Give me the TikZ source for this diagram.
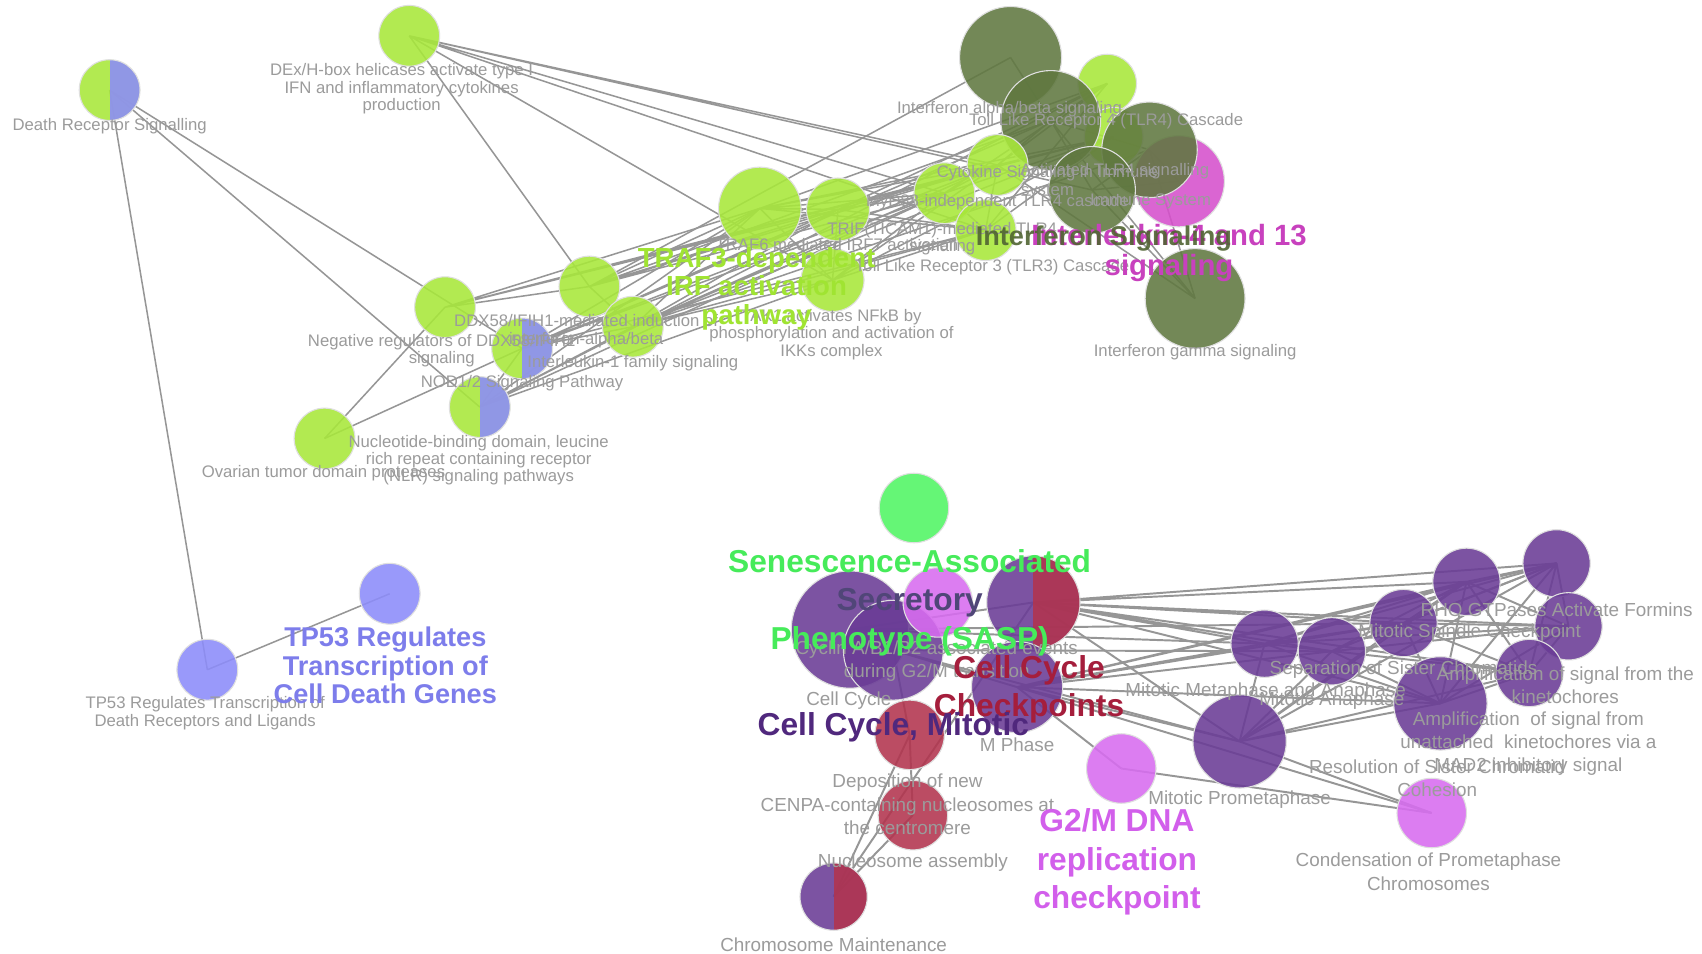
\documentclass[tikz,border=0pt]{standalone}
\usepackage{fontspec}
\setmainfont{Liberation Sans}
\usetikzlibrary{backgrounds}

\definecolor{lime}{RGB}{168,232,58}
\definecolor{olive}{RGB}{96,120,64}
\definecolor{ilpink}{RGB}{214,80,204}
\definecolor{vblue}{RGB}{140,140,250}
\definecolor{sgreen}{RGB}{80,245,100}
\definecolor{cpurple}{RGB}{106,60,150}
\definecolor{crimson}{RGB}{178,52,78}
\definecolor{orchid}{RGB}{216,108,240}
\definecolor{edgegray}{RGB}{150,150,150}
\definecolor{labelgray}{RGB}{155,155,155}
\definecolor{trafgreen}{RGB}{160,228,50}
\definecolor{ifngreen}{RGB}{80,100,50}
\definecolor{ilmag}{RGB}{200,65,190}
\definecolor{tpblue}{RGB}{125,125,235}
\definecolor{sasgreen}{RGB}{70,235,90}
\definecolor{chkred}{RGB}{165,30,60}
\definecolor{mitpurple}{RGB}{80,40,125}
\definecolor{g2mpink}{RGB}{210,95,235}

\tikzset{every picture/.style={line width=0.75pt}}
\tikzset{
  term/.style={circle, inner sep=0pt, draw=white!75!gray, line width=0.5pt, fill opacity=0.88},
  halves/.style 2 args={fill=#1, path picture={\fill[#2] (path picture bounding box.north) rectangle (path picture bounding box.south east);}},
  link/.style={draw=edgegray, line width=0.7pt},
  thick link/.style={draw=edgegray, line width=0.9pt},
  lbl/.style={text=labelgray, inner sep=0pt, align=center, font=\fontsize{7.7}{8}\selectfont},
  lblb/.style={text=labelgray, inner sep=0pt, align=center, font=\fontsize{8.7}{10.75}\selectfont},
  grp/.style={inner sep=0pt, align=center, font=\bfseries\fontsize{14.6}{17.6}\selectfont},
}

\begin{document}
\begin{tikzpicture}[x=0.5pt,y=0.5pt,yscale=-1,xscale=1]
\useasboundingbox (0,0) rectangle (1568,878);

%Shape: Circle [immune cluster]
\node [term, halves={lime}{vblue}, minimum size=28pt] (drs) at (101,83) {};
\node [term, fill=lime, minimum size=28pt] (dexh) at (377,33) {};
\node [term, fill=olive, minimum size=47pt] (ifnab) at (931,53) {};
\node [term, fill=lime, minimum size=27pt] (tlrf) at (1020,77) {};
\node [term, fill=lime, minimum size=27pt] (acttlr) at (1026,126) {};
\node [term, fill=olive, minimum size=46pt] (cyto) at (968,111) {};
\node [term, fill=ilpink, minimum size=42pt] (ilf) at (1086,167) {};
\node [term, fill=olive, minimum size=44pt] (immsys) at (1059,138) {};
\node [term, fill=olive, minimum size=40pt] (ifnsig) at (1006,175) {};
\node [term, fill=olive, minimum size=46pt] (ifng) at (1101,275) {};
\node [term, fill=lime, minimum size=28pt] (myd) at (919,152) {};
\node [term, fill=lime, minimum size=28pt] (trif) at (870,178) {};
\node [term, fill=lime, minimum size=29pt] (traf6) at (772,193) {};
\node [term, fill=lime, minimum size=38pt] (traf3) at (700,192) {};
\node [term, fill=lime, minimum size=28pt] (tlr3) at (908,212) {};
\node [term, fill=lime, minimum size=29pt] (tak) at (767,258) {};
\node [term, fill=lime, minimum size=28pt] (ddx) at (543,264) {};
\node [term, fill=lime, minimum size=28pt] (ilone) at (583,301) {};
\node [term, fill=lime, minimum size=28pt] (negr) at (410,283) {};
\node [term, halves={lime}{vblue}, minimum size=28pt] (nod) at (481,321) {};
\node [term, halves={lime}{vblue}, minimum size=28pt] (nlr) at (442,375) {};
\node [term, fill=lime, minimum size=28pt] (otu) at (299,404) {};
%Shape: Circle [TP53]
\node [term, fill=vblue, minimum size=28pt] (tpa) at (191,617) {};
\node [term, fill=vblue, minimum size=28pt] (tpb) at (359,547) {};
%Shape: Circle [cell cycle cluster]
\node [term, fill=sgreen, minimum size=32pt] (sasp) at (842,468) {};
\node [term, fill=cpurple, minimum size=54pt] (cc) at (783,580) {};
\node [term, fill=cpurple, minimum size=46pt] (ccm) at (823,599) {};
\node [term, fill=orchid, minimum size=32pt] (cyca) at (864,555) {};
\node [term, halves={cpurple}{crimson}, minimum size=43pt] (chk) at (952,555) {};
\node [term, fill=cpurple, minimum size=42pt] (mph) at (937,633) {};
\node [term, fill=crimson, minimum size=32pt] (cenpa) at (838,677) {};
\node [term, fill=crimson, minimum size=32pt] (nucas) at (841,751) {};
\node [term, halves={cpurple}{crimson}, minimum size=31pt] (chrm) at (768,826) {};
\node [term, fill=orchid, minimum size=32pt] (gtwom) at (1033,708) {};
\node [term, fill=cpurple, minimum size=31pt] (mma) at (1165,593) {};
\node [term, fill=cpurple, minimum size=31pt] (mana) at (1227,600) {};
\node [term, fill=cpurple, minimum size=31pt] (ssc) at (1293,574) {};
\node [term, fill=cpurple, minimum size=31pt] (msc) at (1351,536) {};
\node [term, fill=cpurple, minimum size=31pt] (rho) at (1434,519) {};
\node [term, fill=cpurple, minimum size=31pt] (ampk) at (1445,577) {};
\node [term, fill=cpurple, minimum size=31pt] (ampu) at (1409,620) {};
\node [term, fill=cpurple, minimum size=43pt] (rsc) at (1327,648) {};
\node [term, fill=cpurple, minimum size=43pt] (mpro) at (1142,683) {};
\node [term, fill=orchid, minimum size=32pt] (cpc) at (1319,749) {};

\begin{scope}[on background layer]
\fill [white] (0,0) rectangle (1568,878);
%Straight Lines
\draw [link] (drs.center) -- (tpa.center) (drs.center) -- (nod.center) (drs.center) -- (nlr.center);
\draw [link] (tpa.center) -- (tpb.center);
\draw [link] (dexh.center) -- (ifnsig.center) (dexh.center) -- (myd.center) (dexh.center) -- (trif.center) (dexh.center) -- (tlr3.center) (dexh.center) -- (tak.center) (dexh.center) -- (ddx.center);
\draw [link] (negr.center) -- (otu.center) (negr.center) -- (ddx.center) (negr.center) -- (traf3.center) (negr.center) -- (traf6.center) (negr.center) -- (myd.center) (negr.center) -- (acttlr.center);
\draw [link] (otu.center) -- (nod.center);
\draw [link] (nod.center) -- (nlr.center) (nod.center) -- (ilone.center) (nod.center) -- (traf3.center) (nod.center) -- (traf6.center) (nod.center) -- (trif.center) (nod.center) -- (myd.center) (nod.center) -- (tlr3.center) (nod.center) -- (cyto.center);
\draw [link] (nlr.center) -- (ilone.center) (nlr.center) -- (traf3.center) (nlr.center) -- (tak.center) (nlr.center) -- (trif.center) (nlr.center) -- (tlrf.center);
\draw [link] (ddx.center) -- (traf3.center) (ddx.center) -- (traf6.center) (ddx.center) -- (myd.center) (ddx.center) -- (trif.center) (ddx.center) -- (ifnab.center) (ddx.center) -- (cyto.center) (ddx.center) -- (ilone.center);
\draw [link] (ilone.center) -- (traf3.center) (ilone.center) -- (traf6.center) (ilone.center) -- (tak.center) (ilone.center) -- (trif.center) (ilone.center) -- (tlr3.center) (ilone.center) -- (myd.center) (ilone.center) -- (immsys.center) (ilone.center) -- (acttlr.center);
\draw [link] (traf3.center) -- (traf6.center) (traf3.center) -- (trif.center) (traf3.center) -- (myd.center) (traf3.center) -- (tlr3.center) (traf3.center) -- (tak.center) (traf3.center) -- (tlrf.center) (traf3.center) -- (acttlr.center);
\draw [link] (traf6.center) -- (trif.center) (traf6.center) -- (myd.center) (traf6.center) -- (tlr3.center) (traf6.center) -- (tak.center) (traf6.center) -- (tlrf.center);
\draw [link] (tak.center) -- (trif.center) (tak.center) -- (tlr3.center) (tak.center) -- (myd.center) (tak.center) -- (acttlr.center);
\draw [link] (trif.center) -- (myd.center) (trif.center) -- (tlr3.center) (trif.center) -- (acttlr.center) (trif.center) -- (tlrf.center);
\draw [link] (myd.center) -- (tlrf.center) (myd.center) -- (acttlr.center) (myd.center) -- (cyto.center) (myd.center) -- (tlr3.center);
\draw [link] (tlr3.center) -- (acttlr.center) (tlr3.center) -- (tlrf.center);
\draw [link] (cyto.center) -- (ifnab.center) (cyto.center) -- (ifnsig.center) (cyto.center) -- (immsys.center) (cyto.center) -- (ifng.center);
\draw [link] (ifnsig.center) -- (ifng.center) (ifnsig.center) -- (immsys.center) (ifnsig.center) -- (ilf.center) (immsys.center) -- (ilf.center) (immsys.center) -- (ifng.center) (ifng.center) -- (myd.center);
%Straight Lines [cell cycle]
\draw [thick link] (chk.center) -- (mma.center) (chk.center) -- (mana.center) (chk.center) -- (ssc.center) (chk.center) -- (msc.center) (chk.center) -- (rho.center) (chk.center) -- (ampk.center) (chk.center) -- (ampu.center) (chk.center) -- (rsc.center) (chk.center) -- (mpro.center) (chk.center) -- (chrm.center);
\draw [thick link] (mph.center) -- (mma.center) (mph.center) -- (mana.center) (mph.center) -- (ssc.center) (mph.center) -- (msc.center) (mph.center) -- (rho.center) (mph.center) -- (rsc.center) (mph.center) -- (mpro.center) (mph.center) -- (gtwom.center) (mph.center) -- (cpc.center);
\draw [thick link] (cc.center) -- (mma.center) (cc.center) -- (ssc.center) (cc.center) -- (chk.center) (ccm.center) -- (mana.center) (ccm.center) -- (mpro.center) (ccm.center) -- (mph.center);
\draw [thick link] (cenpa.center) -- (nucas.center) (cenpa.center) -- (chrm.center) (cenpa.center) -- (ccm.center) (nucas.center) -- (chrm.center);
\draw [thick link] (mma.center) -- (mana.center) (mma.center) -- (ssc.center) (mma.center) -- (msc.center) (mma.center) -- (rho.center) (mma.center) -- (ampk.center) (mma.center) -- (ampu.center) (mma.center) -- (rsc.center) (mma.center) -- (mpro.center);
\draw [thick link] (mana.center) -- (ssc.center) (mana.center) -- (msc.center) (mana.center) -- (rho.center) (mana.center) -- (ampk.center) (mana.center) -- (rsc.center) (mana.center) -- (mpro.center);
\draw [thick link] (ssc.center) -- (msc.center) (ssc.center) -- (rho.center) (ssc.center) -- (ampk.center) (ssc.center) -- (ampu.center) (ssc.center) -- (rsc.center) (ssc.center) -- (mpro.center);
\draw [thick link] (msc.center) -- (rho.center) (msc.center) -- (ampk.center) (msc.center) -- (ampu.center) (msc.center) -- (rsc.center) (msc.center) -- (mpro.center);
\draw [thick link] (rho.center) -- (ampk.center) (rho.center) -- (ampu.center) (rho.center) -- (rsc.center) (rho.center) -- (mpro.center);
\draw [thick link] (ampk.center) -- (ampu.center) (ampk.center) -- (rsc.center) (ampu.center) -- (rsc.center) (ampu.center) -- (mpro.center) (rsc.center) -- (mpro.center);
\draw [thick link] (mpro.center) -- (cpc.center) (gtwom.center) -- (cpc.center);
\end{scope}

% Text Node
\node [lbl] (tdrs) at (101,116) {Death Receptor Signalling};
\node [lbl] (tdexh) at (370,82) {DEx/H-box helicases activate type I\\IFN and inflammatory cytokines\\production};
\node [lbl] (tifnab) at (930,101) {Interferon alpha/beta signaling};
\node [lbl] (ttlrf) at (1019,112) {Toll Like Receptor 4 (TLR4) Cascade};
\node [lbl] (tcyto) at (965,168) {Cytokine Signaling in Immune\\system};
\node [lbl] (tacttlr) at (1027,158) {Activated TLR4 signalling};
\node [lbl] (tmyd) at (919,186) {MyD88-independent TLR4 cascade};
\node [lbl] (timmsys) at (1060,186) {Immune System};
\node [lbl] (ttrif) at (868,220) {TRIF(TICAM1)-mediated TLR4\\signaling};
\node [lbl] (ttraf6) at (771,225) {TRAF6 mediated IRF7 activation};
\node [lbl] (ttlr3) at (914,246) {Toll Like Receptor 3 (TLR3) Cascade};
\node [lbl] (ttak) at (766,308) {TAK1 activates NFkB by\\phosphorylation and activation of\\IKKs complex};
\node [lbl] (tddx) at (540,305) {DDX58/IFIH1-mediated induction of\\interferon-alpha/beta};
\node [lbl] (tnegr) at (407,323) {Negative regulators of DDX58/IFIH1\\signaling};
\node [lbl] (tilone) at (583,335) {Interleukin-1 family signaling};
\node [lbl] (tnod) at (481,353) {NOD1/2 Signaling Pathway};
\node [lbl] (tnlr) at (441,424) {Nucleotide-binding domain, leucine\\rich repeat containing receptor\\(NLR) signaling pathways};
\node [lbl] (totu) at (298,436) {Ovarian tumor domain proteases};
\node [lbl] (tifng) at (1101,324) {Interferon gamma signaling};
\node [lbl] (ttpa) at (189,657) {TP53 Regulates Transcription of\\Death Receptors and Ligands};
% Text Node
\node [lblb] (tcyca) at (863,609) {Cyclin A/B1/B2 associated events\\during G2/M transition};
\node [lblb] (tcc) at (782,645) {Cell Cycle};
\node [lblb] (tmph) at (937,686) {M Phase};
\node [lblb] (tcenpa) at (836,741) {Deposition of new\\CENPA-containing nucleosomes at\\the centromere};
\node [lblb] (tnucas) at (841,795) {Nucleosome assembly};
\node [lblb] (tchrm) at (768,870) {Chromosome Maintenance};
\node [lblb] (tmma) at (1166,637) {Mitotic Metaphase and Anaphase};
\node [lblb] (tmana) at (1227,645) {Mitotic Anaphase};
\node [lblb] (tssc) at (1293,617) {Separation of Sister Chromatids};
\node [lblb] (tmsc) at (1354,583) {Mitotic Spindle Checkpoint};
\node [lblb] (trho) at (1434,562) {RHO GTPases Activate Formins};
\node [lblb] (tampk) at (1442,631) {Amplification of signal from the\\kinetochores};
\node [lblb] (tampu) at (1408,685) {Amplification\ \ of signal from\\unattached\ \ kinetochores via a\\MAD2 inhibitory signal};
\node [lblb] (trsc) at (1324,717) {Resolution of Sister Chromatid\\Cohesion};
\node [lblb] (tmpro) at (1142,737) {Mitotic Prometaphase};
\node [lblb] (tcpc) at (1316,803) {Condensation of Prometaphase\\Chromosomes};

% Text Node [group titles]
\node [grp, text=trafgreen, font=\bfseries\fontsize{12.7}{13}\selectfont] (gtraf) at (697,266) {TRAF3-dependent\\IRF activation\\pathway};
\node [grp, text=ilmag, font=\bfseries\fontsize{13.5}{13.5}\selectfont] (gil) at (1077,233) {Interleukin-4 and 13\\signaling};
\node [grp, text=ifngreen, text opacity=0.9, font=\bfseries\fontsize{12.5}{13}\selectfont] (gifn) at (1017,220) {Interferon Signaling};
\node [grp, text=tpblue, font=\bfseries\fontsize{12.5}{13.2}\selectfont] (gtp) at (355,613) {TP53 Regulates\\Transcription of\\Cell Death Genes};
\node [grp, text=sasgreen, font=\bfseries\fontsize{14.6}{17.7}\selectfont] (gsasp) at (838,555) {Senescence-Associated\\\textcolor[RGB]{80,70,120}{Secretory}\\Phenotype (SASP)};
\node [grp, text=chkred, font=\bfseries\fontsize{14.6}{17.5}\selectfont] (gchk) at (948,635) {Cell Cycle\\Checkpoints};
\node [grp, text=mitpurple] (gccm) at (823,670) {Cell Cycle, Mitotic};
\node [grp, text=g2mpink, font=\bfseries\fontsize{14.6}{17.7}\selectfont] (gg2m) at (1029,794) {G2/M DNA\\replication\\checkpoint};

\end{tikzpicture}
\end{document}
